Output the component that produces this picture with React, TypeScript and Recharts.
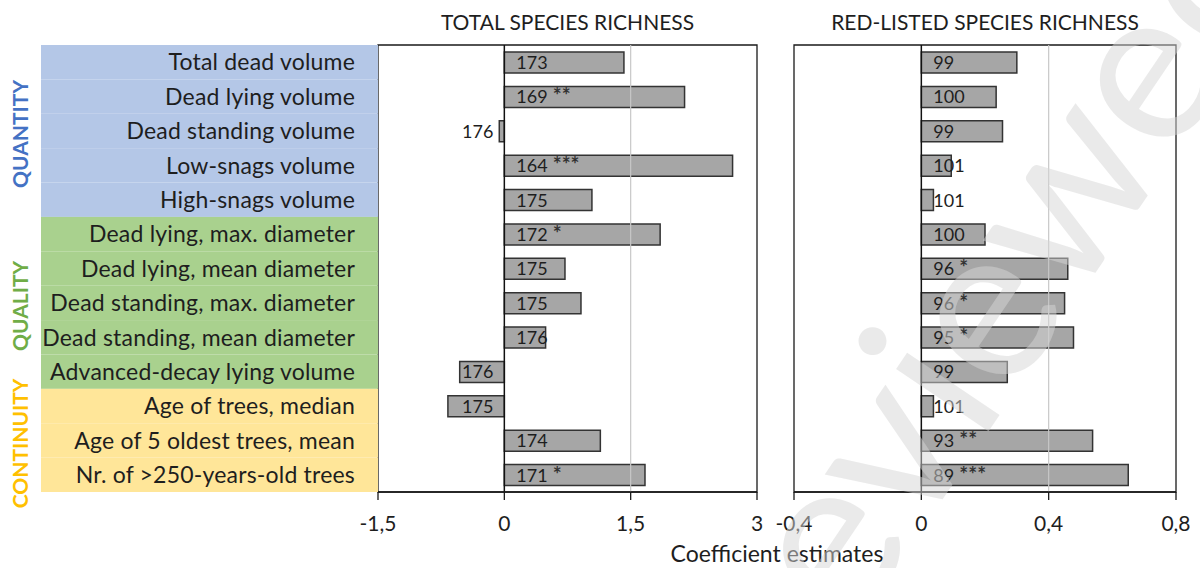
import React from 'react';
import { BarChart, Bar, XAxis, YAxis, ReferenceLine, ReferenceArea, LabelList } from 'recharts';

// ---------- data ----------
const categories = [
  'Total dead volume',
  'Dead lying volume',
  'Dead standing volume',
  'Low-snags volume',
  'High-snags volume',
  'Dead lying, max. diameter',
  'Dead lying, mean diameter',
  'Dead standing, max. diameter',
  'Dead standing, mean diameter',
  'Advanced-decay lying volume',
  'Age of trees, median',
  'Age of 5 oldest trees, mean',
  'Nr. of >250-years-old trees',
];
const totalCoef = [1.42, 2.14, -0.06, 2.71, 1.04, 1.85, 0.72, 0.91, 0.49, -0.53, -0.67, 1.14, 1.67];
const totalN = [173, 169, 176, 164, 175, 172, 175, 175, 176, 176, 175, 174, 171];
const totalSig = ['', '**', '', '***', '', '*', '', '', '', '', '', '', '*'];
const redCoef = [0.3, 0.235, 0.255, 0.094, 0.038, 0.2, 0.46, 0.45, 0.478, 0.27, 0.038, 0.538, 0.65];
const redN = [99, 100, 99, 101, 101, 100, 96, 96, 95, 99, 101, 93, 89];
const redSig = ['', '', '', '', '', '', '*', '*', '*', '', '', '**', '***'];
const groupNames = ['QUANTITY', 'QUALITY', 'CONTINUITY'];
const groupSizes = [5, 5, 3];
const totalTicks = [-1.5, 0, 1.5, 3];
const redTicks = [-0.4, 0, 0.4, 0.8];
const totalGrid = [1.5];
const redGrid = [0.4];
const titles = ['TOTAL SPECIES RICHNESS', 'RED-LISTED SPECIES RICHNESS'];
const xAxisTitle = 'Coefficient estimates';
const watermark = 'reviewed';

// ---------- style / layout ----------
const FONT = 'Lato, "Open Sans", sans-serif';
const groupFills = ['#B4C7E7', '#A9D18E', '#FFE699'];
const groupColors = ['#4472C4', '#70AD47', '#FFC000'];
const TEXT = '#1e1e1e';
const TOP = 45;
const PLOT_BOTTOM = 492;
const H = 568;
const PLOT_H = PLOT_BOTTOM - TOP;
const BAND = PLOT_H / categories.length;
const BAR = 21;
const LEFT_PLOT = [378, 757];
const RIGHT_PLOT = [794, 1176];

const groupIndexOf = (i: number) => {
  let acc = 0;
  for (let g = 0; g < groupSizes.length; g++) {
    acc += groupSizes[g];
    if (i < acc) return g;
  }
  return groupSizes.length - 1;
};

const totalData = categories.map((name, i) => ({
  name,
  coef: totalCoef[i],
  n: totalN[i],
  sig: totalSig[i],
}));
const redData = categories.map((name, i) => ({
  name,
  coef: redCoef[i],
  n: redN[i],
  sig: redSig[i],
}));

const makeBarLabel = (coefs: number[], sigs: string[]) => (props: any) => {
  const { x, y, width, height, value } = props;
  let idx = props.index;
  if (idx == null) idx = Math.round((y + height / 2 - TOP - BAND / 2) / BAND);
  const c = coefs[idx] ?? (width < 0 ? -1 : 1);
  const s = sigs[idx] || '';
  const zero = c >= 0 ? Math.min(x, x + width) : Math.max(x, x + width);
  const neg = c < 0;
  return (
    <text
      x={neg ? zero - 11 : zero + 12}
      y={y + height / 2}
      dy="0.36em"
      textAnchor={neg ? 'end' : 'start'}
      fontFamily={FONT}
      fontSize={18}
      fill={TEXT}
    >
      {value}
      {s ? <tspan fontSize={21} fontWeight={700} fill="#333">{' ' + s}</tspan> : null}
    </text>
  );
};

const CategoryTick = (props: any) => {
  const { y, payload } = props;
  const i = categories.indexOf(payload.value);
  const g = groupIndexOf(i);
  return (
    <g>
      <rect x={41} y={y - BAND / 2} width={LEFT_PLOT[0] - 41} height={BAND} fill={groupFills[g]} />
      <text
        x={355}
        y={y}
        dy="0.36em"
        textAnchor="end"
        fontFamily={FONT}
        fontSize={23}
        letterSpacing={0.2}
        fill={TEXT}
      >
        {payload.value}
      </text>
    </g>
  );
};

const fmt = (v: number) => String(v).replace('.', ',');

const axisTick = { fontFamily: FONT, fontSize: 21, fill: TEXT };

interface PanelProps {
  data: any[];
  coefs: number[];
  sigs: string[];
  ticks: number[];
  grid: number[];
  left: number;
  width: number;
  plot: number[];
  withCategories: boolean;
}

const Panel = ({ data, coefs, sigs, ticks, grid, left, width, plot, withCategories }: PanelProps) => {
  const marginLeft = withCategories ? 0 : plot[0] - left;
  const yWidth = withCategories ? plot[0] - left : 0;
  return (
    <div style={{ position: 'absolute', left, top: 0 }}>
      <BarChart
        width={width}
        height={H}
        data={data}
        layout="vertical"
        margin={{ top: TOP, right: left + width - plot[1], bottom: 0, left: marginLeft }}
        barCategoryGap={BAND - BAR}
      >
        <XAxis
          type="number"
          domain={[ticks[0], ticks[ticks.length - 1]]}
          ticks={ticks}
          tickFormatter={fmt}
          height={H - PLOT_BOTTOM}
          tickSize={8}
          tickMargin={16}
          axisLine={{ stroke: '#1a1a1a', strokeWidth: 1.3 }}
          tickLine={{ stroke: '#1a1a1a', strokeWidth: 1.3 }}
          tick={axisTick}
          interval={0}
        />
        <YAxis
          type="category"
          dataKey="name"
          width={yWidth}
          hide={!withCategories}
          axisLine={false}
          tickLine={false}
          interval={0}
          tick={<CategoryTick />}
        />
        <ReferenceArea
          x1={ticks[0]}
          x2={ticks[ticks.length - 1]}
          fill="none"
          stroke="#1a1a1a"
          strokeWidth={1.3}
          fillOpacity={0}
        />
        {grid.map((g) => (
          <ReferenceLine key={g} x={g} stroke="#c8c8c8" strokeWidth={1.2} />
        ))}
        <Bar
          dataKey="coef"
          fill="#a6a6a6"
          stroke="#333333"
          strokeWidth={1.5}
          barSize={BAR}
          isAnimationActive={false}
        >
          <LabelList dataKey="n" content={makeBarLabel(coefs, sigs)} />
        </Bar>
        <ReferenceLine x={0} stroke="#111" strokeWidth={1.5} />
      </BarChart>
    </div>
  );
};

export default function App() {
  const groupCenters: number[] = [];
  let acc = 0;
  groupSizes.forEach((s) => {
    groupCenters.push(TOP + (acc + s / 2) * BAND + 3);
    acc += s;
  });
  return (
    <div style={{ position: 'absolute', left: 0, top: 0, width: 1200, height: H, background: '#fff', overflow: 'hidden' }}>
      <Panel
        data={totalData}
        coefs={totalCoef}
        sigs={totalSig}
        ticks={totalTicks}
        grid={totalGrid}
        left={0}
        width={780}
        plot={LEFT_PLOT}
        withCategories
      />
      <Panel
        data={redData}
        coefs={redCoef}
        sigs={redSig}
        ticks={redTicks}
        grid={redGrid}
        left={770}
        width={430}
        plot={RIGHT_PLOT}
        withCategories={false}
      />
      <svg width={1200} height={H} style={{ position: 'absolute', left: 0, top: 0, pointerEvents: 'none' }}>
        {titles.map((t, i) => {
          const p = i === 0 ? LEFT_PLOT : RIGHT_PLOT;
          return (
            <text key={t} x={(p[0] + p[1]) / 2} y={30} textAnchor="middle" fontFamily={FONT} fontSize={21} fill={TEXT}>
              {t}
            </text>
          );
        })}
        <text x={(LEFT_PLOT[0] + RIGHT_PLOT[1]) / 2} y={562} textAnchor="middle" fontFamily={FONT} fontSize={23} fill={TEXT}>
          {xAxisTitle}
        </text>
        {groupNames.map((n, g) => (
          <text
            key={n}
            x={0}
            y={0}
            transform={`translate(28, ${groupCenters[g]}) rotate(-90)`}
            textAnchor="middle"
            fontFamily={FONT}
            fontWeight={700}
            fontSize={21}
            fill={groupColors[g]}
          >
            {n}
          </text>
        ))}
        <text
          x={0}
          y={0}
          transform="translate(810, 696) rotate(-56)"
          fontFamily={FONT}
          fontSize={220}
          fill="rgb(214,214,214)"
          fillOpacity={0.5}
        >
          {watermark}
        </text>
      </svg>
    </div>
  );
}
